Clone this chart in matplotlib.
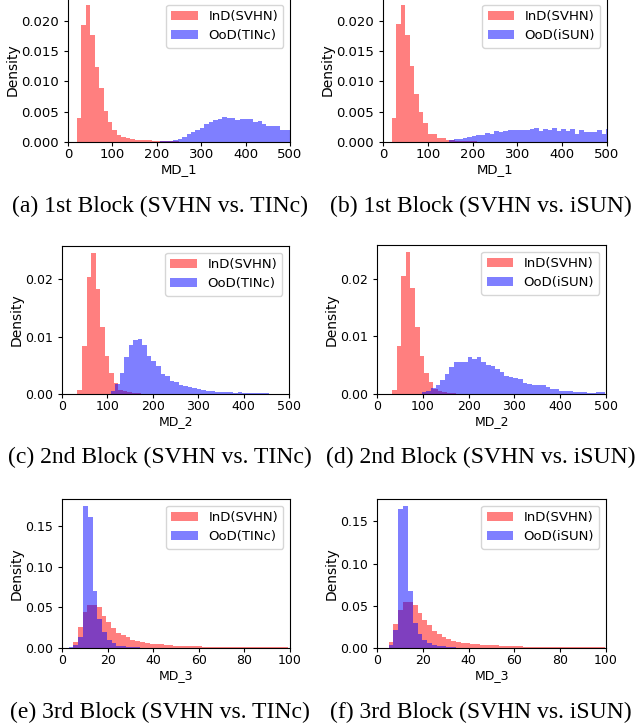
import numpy as np
import matplotlib
matplotlib.use("Agg")
import matplotlib.pyplot as plt
from matplotlib.ticker import FormatStrFormatter

# ---------------- data (bin heights, density) ----------------
# Panel (a): 1st block, SVHN vs TINc
red_a_start, red_a_width = 20, 10
red_a = [0.0040, 0.0193, 0.0226, 0.0177, 0.0124, 0.0089, 0.0051, 0.0033, 0.0019, 0.0012,
         0.0009, 0.0007, 0.0005, 0.0003, 0.0003, 0.0003, 0.0003, 0.0002, 0.0002, 0.0001,
         0.0001, 0.0001, 0.0001, 0.00008, 0.00006, 0.00005, 0.00005, 0.00004, 0.00004, 0.00003]
blue_a_start, blue_a_width = 207, 10
blue_a = [0.0001, 0.0001, 0.0002, 0.0003, 0.0005, 0.0008, 0.0013, 0.0016, 0.0019, 0.0023,
          0.0030, 0.0033, 0.0037, 0.0038, 0.0041, 0.0039, 0.0039, 0.0036, 0.0038, 0.0038,
          0.0038, 0.0033, 0.0035, 0.0030, 0.0026, 0.0026, 0.0026, 0.0020, 0.0020, 0.0020]

# Panel (b): 1st block, SVHN vs iSUN
red_b_start, red_b_width = 20, 10
red_b = [0.0040, 0.0195, 0.0226, 0.0177, 0.0126, 0.0079, 0.0050, 0.0031, 0.0013, 0.0013,
         0.0007, 0.0006, 0.0004, 0.0003, 0.0002, 0.0002, 0.0001, 0.0001, 0.0001, 0.00008,
         0.00006, 0.00005, 0.00005, 0.00004, 0.00004, 0.00003]
blue_b_start, blue_b_width = 148, 10
blue_b = [0.0004, 0.0005, 0.0005, 0.0007, 0.0008, 0.0010, 0.0011, 0.0012, 0.0015, 0.0013,
          0.0018, 0.0016, 0.0018, 0.0020, 0.0020, 0.0020, 0.0020, 0.0020, 0.0021, 0.0023,
          0.0018, 0.0021, 0.0019, 0.0023, 0.0018, 0.0021, 0.0018, 0.0021, 0.0014, 0.0019,
          0.0016, 0.0016, 0.0016, 0.0020, 0.0014, 0.0022]

# Panel (c): 2nd block, SVHN vs TINc
red_c_start, red_c_width = 34, 10
red_c = [0.00075, 0.0084, 0.0205, 0.0246, 0.0183, 0.0117, 0.0066, 0.0036, 0.0020, 0.00075,
         0.0005, 0.0003, 0.0001, 0.0001, 0.00005]
blue_c_start, blue_c_width = 107, 10
blue_c = [0.0006, 0.0018, 0.0036, 0.0064, 0.0086, 0.0094, 0.0096, 0.0086, 0.0066, 0.0058,
          0.0048, 0.0035, 0.0032, 0.0022, 0.0021, 0.0016, 0.0014, 0.0012, 0.0010, 0.0009,
          0.00075, 0.0006, 0.0005, 0.0004, 0.0004, 0.0003, 0.0003, 0.0002, 0.0003, 0.0002,
          0.0002, 0.0002, 0.0001, 0.0002, 0.0001]

# Panel (d): 2nd block, SVHN vs iSUN
red_d_start, red_d_width = 33, 10
red_d = [0.00075, 0.0084, 0.0205, 0.0246, 0.0183, 0.0116, 0.0066, 0.0036, 0.0020, 0.0009,
         0.0005, 0.0003, 0.0001, 0.0001, 0.00005]
blue_d_start, blue_d_width = 98, 10
blue_d = [0.0003, 0.0006, 0.0010, 0.0016, 0.0025, 0.0035, 0.0046, 0.0055, 0.0055, 0.0055,
          0.0065, 0.0061, 0.0064, 0.0055, 0.0050, 0.0048, 0.0043, 0.0038, 0.0032, 0.0029,
          0.0027, 0.0026, 0.0019, 0.0017, 0.0016, 0.0016, 0.0016, 0.0012, 0.0009, 0.0009,
          0.0006, 0.0005, 0.0005, 0.0004, 0.0004, 0.0004, 0.0002, 0.0001, 0.0003, 0.0003]

# Panel (e): 3rd block, SVHN vs TINc
red_e_start, red_e_width = 4.8, 2.1
red_e = [0.0070, 0.026, 0.044, 0.053, 0.053, 0.050, 0.040, 0.032, 0.025, 0.019,
         0.016, 0.013, 0.010, 0.0086, 0.007, 0.006, 0.0055, 0.005, 0.0045, 0.004,
         0.0035, 0.003, 0.003, 0.0028, 0.0025, 0.0022, 0.002, 0.0018, 0.0016, 0.0015,
         0.0014, 0.0013, 0.0012, 0.0012, 0.0011, 0.0011, 0.0010, 0.0010, 0.0010, 0.0009,
         0.0009, 0.0009, 0.0008, 0.0008, 0.0008]
blue_e_start, blue_e_width = 2.9, 2.1
blue_e = [0.001, 0.004, 0.013, 0.175, 0.161, 0.070, 0.036, 0.020, 0.010, 0.006,
          0.003, 0.0025, 0.0015, 0.001, 0.0008, 0.0005, 0.0003, 0.0003, 0.0002, 0.0002]

# Panel (f): 3rd block, SVHN vs iSUN
red_f_start, red_f_width = 5.1, 2.1
red_f = [0.0066, 0.029, 0.045, 0.054, 0.054, 0.051, 0.041, 0.033, 0.027, 0.020,
         0.017, 0.013, 0.011, 0.0086, 0.007, 0.006, 0.0055, 0.005, 0.0045, 0.004,
         0.0036, 0.0033, 0.003, 0.0028, 0.0025, 0.0022, 0.002, 0.0018, 0.0017, 0.0016,
         0.0015, 0.0014, 0.0013, 0.0012, 0.0012, 0.0011, 0.0011, 0.0010, 0.0010, 0.0010,
         0.0009, 0.0009, 0.0009, 0.0008, 0.0008]
blue_f_start, blue_f_width = 3.0, 2.1
blue_f = [0.0005, 0.003, 0.021, 0.165, 0.168, 0.068, 0.030, 0.017, 0.0095, 0.0055,
          0.003, 0.002, 0.0018, 0.001, 0.0008, 0.0005, 0.0003, 0.0003, 0.0002, 0.0002]

ind_label = "InD(SVHN)"
ood_labels = ["OoD(TINc)", "OoD(iSUN)"]
xlabels = ["MD_1", "MD_2", "MD_3"]
captions = ["(a) 1st Block (SVHN vs. TINc)", "(b) 1st Block (SVHN vs. iSUN)",
            "(c) 2nd Block (SVHN vs. TINc)", "(d) 2nd Block (SVHN vs. iSUN)",
            "(e) 3rd Block (SVHN vs. TINc)", "(f) 3rd Block (SVHN vs. iSUN)"]

# ---------------- figure ----------------
W, H = 640, 727
fig = plt.figure(figsize=(W / 100, H / 100), dpi=100)

def frac(left, top, right, bottom):
    return [left / W, 1 - bottom / H, (right - left) / W, (bottom - top) / H]

boxes = [frac(68, -2, 290, 142), frac(383, -2, 607, 142),
         frac(62, 246, 289, 394), frac(377, 245, 606, 394),
         frac(62, 499, 290, 648), frac(377, 499, 606, 648)]

panels = [
    (red_a, red_a_start, red_a_width, blue_a, blue_a_start, blue_a_width),
    (red_b, red_b_start, red_b_width, blue_b, blue_b_start, blue_b_width),
    (red_c, red_c_start, red_c_width, blue_c, blue_c_start, blue_c_width),
    (red_d, red_d_start, red_d_width, blue_d, blue_d_start, blue_d_width),
    (red_e, red_e_start, red_e_width, blue_e, blue_e_start, blue_e_width),
    (red_f, red_f_start, red_f_width, blue_f, blue_f_start, blue_f_width),
]

def edges_of(vals, start, width):
    return start + width * np.arange(len(vals) + 1)

for i, (box, p) in enumerate(zip(boxes, panels)):
    ax = fig.add_axes(box)
    rv, rs, rw, bv, bs, bw = p
    re_ = edges_of(rv, rs, rw)
    be_ = edges_of(bv, bs, bw)
    ax.hist((re_[:-1] + re_[1:]) / 2, bins=re_, weights=rv, color="red", alpha=0.5,
            label=ind_label)
    ax.hist((be_[:-1] + be_[1:]) / 2, bins=be_, weights=bv, color="blue", alpha=0.5,
            label=ood_labels[i % 2])
    row = i // 2
    tick_fs = 9.5 if row == 0 else 9.0
    if row < 2:
        ax.set_xlim(0, 500)
        ax.set_xticks([0, 100, 200, 300, 400, 500])
    else:
        ax.set_xlim(0, 100)
        ax.set_xticks([0, 20, 40, 60, 80, 100])
    if row == 0:
        ax.set_yticks([0, 0.005, 0.010, 0.015, 0.020])
        ax.yaxis.set_major_formatter(FormatStrFormatter("%.3f"))
    elif row == 1:
        ax.set_yticks([0, 0.01, 0.02])
        ax.yaxis.set_major_formatter(FormatStrFormatter("%.2f"))
    else:
        ax.set_yticks([0, 0.05, 0.10, 0.15])
        ax.yaxis.set_major_formatter(FormatStrFormatter("%.2f"))
    ax.tick_params(labelsize=tick_fs, length=3)
    ax.tick_params(axis="x", pad=1.5)
    ax.set_xlabel(xlabels[row], fontsize=tick_fs, labelpad=1)
    ax.set_ylabel("Density", fontsize=10, labelpad=1)
    ax.legend(loc="upper right", fontsize=9.5)

cap_y = [206, 457, 712]
cap_x = [160, 481]
for i, c in enumerate(captions):
    fig.text(cap_x[i % 2] / W, 1 - cap_y[i // 2] / H, c, ha="center", va="center",
             fontsize=17, family="Liberation Serif")

fig.savefig("out.png", dpi=100)
